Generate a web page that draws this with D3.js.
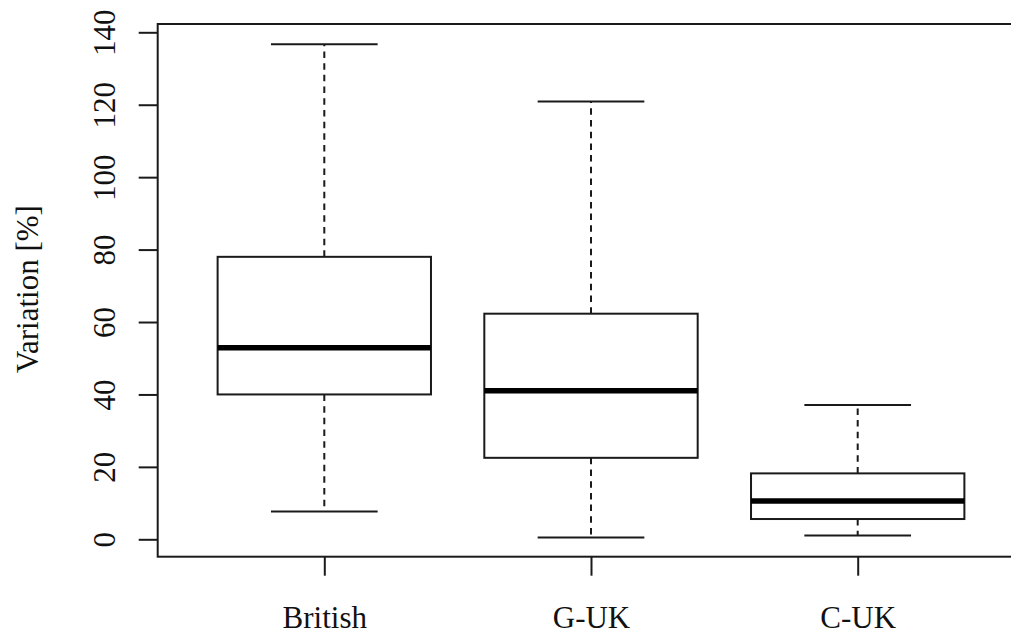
<!DOCTYPE html>
<html>
<head>
<meta charset="utf-8">
<script src="https://cdn.jsdelivr.net/npm/d3@7"></script>
<style>
  html, body { margin: 0; padding: 0; background: #fff; }
  svg { display: block; }
</style>
</head>
<body>
<svg id="chart" width="1011" height="634"></svg>
<script>
// Data
const categories  = ["British", "G-UK", "C-UK"];
const whiskerLow  = [7.7, 0.5, 1.05];
const q1          = [40.0, 22.5, 5.6];
const medians     = [52.9, 41.0, 10.6];
const q3          = [78.0, 62.3, 18.2];
const whiskerHigh = [136.7, 120.9, 37.1];
const yTicks      = [0, 20, 40, 60, 80, 100, 120, 140];
const yLabel      = "Variation [%]";

const FONT = "'Liberation Serif', serif";
const svg = d3.select("#chart");
const frame = { left: 157.7, top: 24, right: 1024, bottom: 556.7 };
const ink = "#1a1a1a";

const x = d3.scalePoint().domain(categories).range([324.3, 857.7]);
const step = x.step();
const boxW = step * 0.8;
const capW = boxW * 0.5;
const y = d3.scaleLinear().domain([0, 140]).range([539.3, 32.3]);

// Frame
svg.append("rect")
  .attr("x", frame.left).attr("y", frame.top)
  .attr("width", frame.right - frame.left).attr("height", frame.bottom - frame.top)
  .attr("fill", "none").attr("stroke", ink).attr("stroke-width", 2);

// Y axis
const yAxis = d3.axisLeft(y).tickValues(yTicks).tickSize(19).tickPadding(0).tickFormat(d3.format("d"));
const gy = svg.append("g").attr("transform", `translate(${frame.left},0)`).call(yAxis);
gy.attr("font-family", null).attr("font-size", null);
gy.select(".domain").remove();
gy.selectAll(".tick line").attr("stroke", ink).attr("stroke-width", 2);
gy.selectAll(".tick text")
  .attr("x", null).attr("dy", null)
  .attr("transform", "translate(-43,0) rotate(-90)")
  .attr("text-anchor", "middle")
  .style("font-family", FONT)
  .style("font-size", "31px")
  .attr("fill", "#111");

// X axis
const xAxis = d3.axisBottom(x).tickSize(19).tickPadding(0);
const gx = svg.append("g").attr("transform", `translate(0,${frame.bottom})`).call(xAxis);
gx.attr("font-family", null).attr("font-size", null);
gx.select(".domain").remove();
gx.selectAll(".tick line").attr("stroke", ink).attr("stroke-width", 2);
gx.selectAll(".tick text")
  .attr("y", 71).attr("dy", null)
  .style("font-family", FONT)
  .style("font-size", "31px")
  .attr("fill", "#111");

// Y label
svg.append("text")
  .attr("transform", "translate(38,289) rotate(-90)")
  .attr("text-anchor", "middle")
  .style("font-family", FONT)
  .style("font-size", "31px")
  .attr("fill", "#111")
  .text(yLabel);

// Boxes
const data = categories.map((c, i) => ({
  c, lo: whiskerLow[i], q1: q1[i], med: medians[i], q3: q3[i], hi: whiskerHigh[i]
}));

const g = svg.append("g").selectAll("g").data(data).join("g");

// whiskers (dashed)
g.append("line")
  .attr("x1", d => x(d.c)).attr("x2", d => x(d.c))
  .attr("y1", d => y(d.q3)).attr("y2", d => y(d.hi))
  .attr("stroke", ink).attr("stroke-width", 2).attr("stroke-dasharray", "6.5,5.2");
g.append("line")
  .attr("x1", d => x(d.c)).attr("x2", d => x(d.c))
  .attr("y1", d => y(d.q1)).attr("y2", d => y(d.lo))
  .attr("stroke", ink).attr("stroke-width", 2).attr("stroke-dasharray", "6.5,5.2");
// caps
g.append("line")
  .attr("x1", d => x(d.c) - capW / 2).attr("x2", d => x(d.c) + capW / 2)
  .attr("y1", d => y(d.hi)).attr("y2", d => y(d.hi))
  .attr("stroke", ink).attr("stroke-width", 2);
g.append("line")
  .attr("x1", d => x(d.c) - capW / 2).attr("x2", d => x(d.c) + capW / 2)
  .attr("y1", d => y(d.lo)).attr("y2", d => y(d.lo))
  .attr("stroke", ink).attr("stroke-width", 2);
// box
g.append("rect")
  .attr("x", d => x(d.c) - boxW / 2).attr("width", boxW)
  .attr("y", d => y(d.q3)).attr("height", d => y(d.q1) - y(d.q3))
  .attr("fill", "#fff").attr("stroke", ink).attr("stroke-width", 2);
// median
g.append("line")
  .attr("x1", d => x(d.c) - boxW / 2).attr("x2", d => x(d.c) + boxW / 2)
  .attr("y1", d => y(d.med)).attr("y2", d => y(d.med))
  .attr("stroke", "#000").attr("stroke-width", 5.5);
</script>
</body>
</html>
